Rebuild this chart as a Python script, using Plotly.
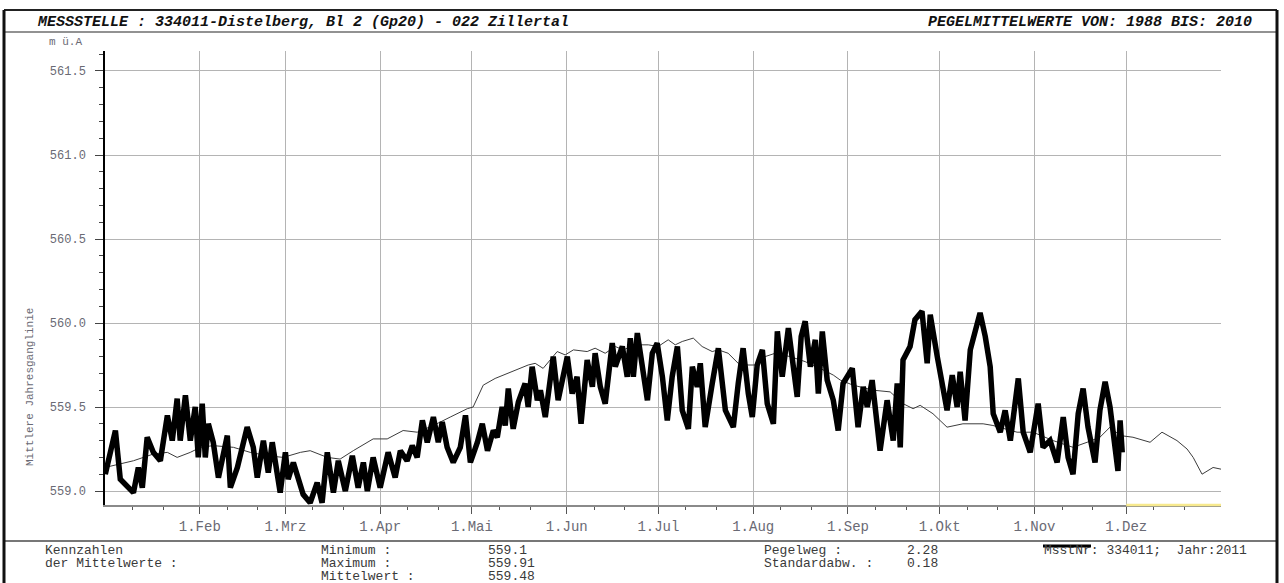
import plotly.graph_objects as go

# ---- data -------------------------------------------------------------
# x values are days since 1 January (0 = 1.Jan, 365 = 31.Dez end)
month_starts = [31, 59, 90, 120, 151, 181, 212, 243, 273, 304, 334]
month_labels = ["1.Feb", "1.Mrz", "1.Apr", "1.Mai", "1.Jun", "1.Jul",
                "1.Aug", "1.Sep", "1.Okt", "1.Nov", "1.Dez"]

# Mittlere Jahresganglinie 1988-2010 (m ü.A)
mean_days = [0, 5.0, 9.3, 15.8, 20.4, 23.6, 27.9, 31.2, 35.4, 42.0, 47.5, 53.1,
             58.3, 63.9, 67.1, 72.7, 76.9, 81.2, 87.7, 92.3, 97.5, 102.1, 107.4,
             112.9, 118.5, 120.4, 123.7, 127.6, 131.9, 138.4, 140.7, 143.3, 147.9,
             150.5, 153.2, 157.7, 160.3, 163.6, 166.9, 169.5, 173.4, 177.7, 180.9,
             184.2, 186.5, 188.8, 192.4, 195.3, 198.6, 200.6, 203.8, 207.1, 210.3,
             212.6, 215.9, 219.2, 224.1, 229.0, 233.9, 238.2, 240.5, 244.7, 251.3,
             256.8, 261.0, 264.3, 266.6, 270.8, 275.4, 280.6, 287.2, 290.4, 298.3,
             303.5, 310.1, 316.6, 321.2, 325.4, 328.7, 332.0, 336.2, 341.8, 345.7,
             350.6, 353.9, 355.9, 358.8, 362.4, 365]
mean_level = [559.14, 559.16, 559.18, 559.22, 559.23, 559.20, 559.23, 559.26, 559.27,
              559.26, 559.23, 559.21, 559.20, 559.23, 559.24, 559.20, 559.19, 559.24,
              559.31, 559.31, 559.36, 559.35, 559.39, 559.44, 559.49, 559.50, 559.63,
              559.67, 559.70, 559.75, 559.76, 559.73, 559.83, 559.81, 559.84, 559.83,
              559.85, 559.82, 559.86, 559.84, 559.87, 559.87, 559.86, 559.90, 559.87,
              559.89, 559.91, 559.86, 559.83, 559.84, 559.82, 559.76, 559.75, 559.75,
              559.80, 559.82, 559.80, 559.77, 559.73, 559.69, 559.66, 559.63, 559.60,
              559.59, 559.52, 559.49, 559.51, 559.46, 559.38, 559.40, 559.40, 559.39,
              559.35, 559.35, 559.30, 559.26, 559.29, 559.32, 559.38, 559.33, 559.32,
              559.29, 559.35, 559.30, 559.25, 559.20, 559.10, 559.14, 559.13]

# Pegel 2011 (m ü.A)
year_days = [0.1, 3.4, 5.0, 9.3, 10.9, 12.2, 13.8, 15.8, 18.1, 20.4, 22.0, 23.6, 24.6,
             26.3, 27.9, 29.5, 30.5, 31.8, 32.8, 33.8, 35.4, 37.1, 40.0, 41.0, 43.3,
             46.5, 48.5, 49.8, 51.8, 53.4, 54.7, 57.3, 59.0, 59.9, 61.6, 63.9, 64.8,
             67.1, 69.4, 71.0, 72.7, 74.7, 76.3, 78.6, 80.9, 82.8, 84.5, 85.8, 87.7,
             90.0, 92.6, 94.9, 96.6, 98.8, 100.5, 102.1, 103.8, 105.4, 107.4, 109.0,
             110.3, 111.9, 113.9, 116.2, 117.9, 119.5, 121.8, 123.4, 125.1, 127.0,
             128.3, 129.9, 130.9, 131.9, 133.5, 135.2, 137.4, 138.4, 139.7, 141.4,
             142.4, 144.0, 145.6, 146.6, 148.2, 149.9, 151.2, 152.8, 154.4, 155.7,
             157.7, 159.4, 160.3, 162.0, 163.6, 165.9, 166.9, 169.2, 170.8, 171.8,
             172.8, 174.1, 175.7, 177.4, 179.0, 180.6, 182.3, 183.9, 185.5, 187.2,
             188.8, 190.8, 192.1, 193.7, 194.7, 196.3, 198.6, 200.6, 202.9, 205.5,
             207.1, 208.7, 210.4, 211.7, 213.3, 215.0, 216.6, 218.6, 219.9, 221.5,
             223.5, 225.1, 226.4, 227.7, 229.0, 230.7, 232.3, 233.3, 234.6, 236.2,
             238.2, 239.8, 241.4, 244.4, 246.3, 248.0, 249.3, 250.9, 253.5, 255.8,
             257.8, 259.1, 260.1, 261.0, 263.3, 264.9, 267.2, 268.9, 269.9, 272.2,
             274.1, 275.4, 277.1, 278.7, 279.7, 281.3, 283.0, 284.6, 286.2, 287.9,
             289.5, 290.5, 292.8, 294.4, 296.1, 298.7, 300.3, 302.6, 305.2, 306.8,
             309.1, 311.4, 313.4, 315.0, 316.6, 318.3, 319.9, 321.5, 323.8, 325.4,
             327.1, 328.7, 330.3, 331.3, 332.0, 332.7]
year_level = [559.10, 559.36, 559.07, 558.99, 559.14, 559.02, 559.32, 559.23, 559.18,
              559.45, 559.30, 559.55, 559.30, 559.57, 559.30, 559.50, 559.20, 559.52,
              559.20, 559.40, 559.29, 559.08, 559.33, 559.02, 559.14, 559.38, 559.26,
              559.08, 559.30, 559.11, 559.29, 558.99, 559.23, 559.07, 559.17, 559.05,
              558.98, 558.93, 559.05, 558.93, 559.23, 558.99, 559.18, 559.00, 559.21,
              559.02, 559.17, 559.00, 559.20, 559.02, 559.23, 559.08, 559.24, 559.18,
              559.27, 559.20, 559.42, 559.29, 559.44, 559.29, 559.41, 559.26, 559.17,
              559.26, 559.45, 559.17, 559.29, 559.40, 559.24, 559.36, 559.32, 559.50,
              559.39, 559.61, 559.37, 559.53, 559.64, 559.50, 559.74, 559.54, 559.60,
              559.44, 559.63, 559.80, 559.54, 559.70, 559.80, 559.58, 559.68, 559.40,
              559.78, 559.62, 559.82, 559.62, 559.52, 559.88, 559.74, 559.86, 559.68,
              559.91, 559.68, 559.94, 559.76, 559.54, 559.82, 559.88, 559.68, 559.42,
              559.68, 559.86, 559.48, 559.37, 559.74, 559.62, 559.76, 559.38, 559.64,
              559.85, 559.48, 559.38, 559.64, 559.85, 559.58, 559.44, 559.75, 559.84,
              559.52, 559.40, 559.95, 559.68, 559.97, 559.72, 559.56, 559.92, 560.01,
              559.74, 559.90, 559.58, 559.95, 559.66, 559.54, 559.36, 559.64, 559.73,
              559.38, 559.62, 559.50, 559.66, 559.24, 559.54, 559.30, 559.64, 559.26,
              559.78, 559.86, 560.02, 560.07, 559.76, 560.05, 559.80, 559.58, 559.48,
              559.69, 559.50, 559.71, 559.42, 559.84, 559.94, 560.06, 559.92, 559.74,
              559.46, 559.35, 559.48, 559.30, 559.67, 559.35, 559.23, 559.52, 559.26,
              559.30, 559.17, 559.44, 559.20, 559.10, 559.46, 559.61, 559.38, 559.17,
              559.48, 559.65, 559.50, 559.26, 559.12, 559.42, 559.23]

y_major = [559.0, 559.5, 560.0, 560.5, 561.0, 561.5]
y_minor = [559.1, 559.2, 559.3, 559.4, 559.6, 559.7, 559.8, 559.9,
           560.1, 560.2, 560.3, 560.4, 560.6, 560.7, 560.8, 560.9,
           561.1, 561.2, 561.3, 561.4, 561.6]
x_minor = [m + k for m in [0] + month_starts for k in (9, 19)]

# ---- page geometry (pixels) -------------------------------------------
W, H = 1284, 583
L, R, T, B = 105, 63, 51, 78
PW, PH = W - L - R, H - T - B


def px(x):
    return (x - L) / PW


def py(y):
    return (H - B - y) / PH


MONO = "Liberation Mono, Courier New, monospace"
TICK_COL = "#6a6a74"
TXT_COL = "#3a3a3a"

fig = go.Figure()
fig.add_trace(go.Scatter(x=mean_days, y=mean_level, mode="lines",
                         line=dict(color="#3c3c3c", width=1), hoverinfo="skip",
                         showlegend=False))
fig.add_trace(go.Scatter(x=year_days, y=year_level, mode="lines",
                         line=dict(color="#000000", width=5.5), hoverinfo="skip",
                         showlegend=False))

fig.update_layout(
    width=W, height=H,
    margin=dict(l=L, r=R, t=T, b=B, autoexpand=False),
    paper_bgcolor="white", plot_bgcolor="white",
    font=dict(family=MONO, color=TXT_COL),
    xaxis=dict(range=[0, 365], showline=True, linecolor="#8a8a8a", linewidth=2,
               tickmode="array", tickvals=month_starts, ticktext=month_labels,
               ticks="outside", ticklen=7, tickwidth=1, tickcolor="#555555",
               tickfont=dict(family=MONO, size=14, color=TICK_COL),
               showgrid=True, gridcolor="#b4b4b4", gridwidth=1, zeroline=False,
               minor=dict(tickmode="array", tickvals=x_minor, ticks="outside",
                          ticklen=3, tickcolor="#555555", showgrid=False)),
    yaxis=dict(range=[558.9167, 561.619], showline=True, linecolor="#000000",
               linewidth=1.5, tickmode="array", tickvals=y_major,
               ticktext=[f"{v:.1f}" for v in y_major],
               ticks="outside", ticklen=8, tickwidth=1, tickcolor="#444444",
               tickfont=dict(family=MONO, size=12, color=TICK_COL),
               ticklabelstandoff=7,
               showgrid=True, gridcolor="#b4b4b4", gridwidth=1, zeroline=False,
               minor=dict(tickmode="array", tickvals=y_minor, ticks="outside",
                          ticklen=4, tickcolor="#444444", showgrid=False)),
)

# report frame
frame = [
    dict(x0=px(4), x1=px(1277), y0=py(10), y1=py(10), color="#222222", w=2),
    dict(x0=px(4), x1=px(1277), y0=py(32), y1=py(32), color="#6e6e6e", w=1.5),
    dict(x0=px(4), x1=px(1277), y0=py(541), y1=py(541), color="#4a4a4a", w=1.5),
    dict(x0=px(4), x1=px(4), y0=py(10), y1=py(590), color="#111111", w=3),
    dict(x0=px(1277), x1=px(1277), y0=py(10), y1=py(590), color="#111111", w=3),
]
for f in frame:
    fig.add_shape(type="line", xref="paper", yref="paper",
                  x0=f["x0"], x1=f["x1"], y0=f["y0"], y1=f["y1"],
                  line=dict(color=f["color"], width=f["w"]))

# x-axis segment in December marked yellow
fig.add_shape(type="line", xref="x", yref="paper", x0=334, x1=365, y0=0, y1=0,
              line=dict(color="#f7e98e", width=2.5))
# legend bar for the current year
fig.add_shape(type="line", xref="paper", yref="paper",
              x0=px(1043), x1=px(1091), y0=py(546), y1=py(546),
              line=dict(color="#000000", width=3))


def label(x, y, text, size=13, anchor="left", color=TXT_COL, bold=False,
          italic=False, angle=0):
    t = f"<b>{text}</b>" if bold else text
    t = f"<i>{t}</i>" if italic else t
    fig.add_annotation(xref="paper", yref="paper", x=px(x), y=py(y), text=t,
                       showarrow=False, xanchor=anchor, yanchor="middle",
                       textangle=angle, borderpad=0,
                       font=dict(family=MONO, size=size, color=color))


label(36, 22, "MESSSTELLE : 334011-Distelberg, Bl 2 (Gp20) - 022 Zillertal",
      size=15, color="#111111", bold=True, italic=True)
label(1253, 22, "PEGELMITTELWERTE VON: 1988 BIS: 2010", size=15,
      anchor="right", color="#111111", bold=True, italic=True)
label(48, 42, "m ü.A", size=11, color=TICK_COL)
label(30, 387, "Mittlere Jahresganglinie", size=11, anchor="center",
      color=TICK_COL, angle=-90)

label(44, 550, "Kennzahlen")
label(44, 563, "der Mittelwerte :")
label(320, 550, "Minimum :")
label(320, 563, "Maximum :")
label(320, 576, "Mittelwert :")
label(487, 550, "559.1")
label(487, 563, "559.91")
label(487, 576, "559.48")
label(763, 550, "Pegelweg :")
label(763, 563, "Standardabw. :")
label(906, 550, "2.28")
label(906, 563, "0.18")
label(1043, 550, "MsstNr: 334011;  Jahr:2011")

fig.write_html("out.html")
